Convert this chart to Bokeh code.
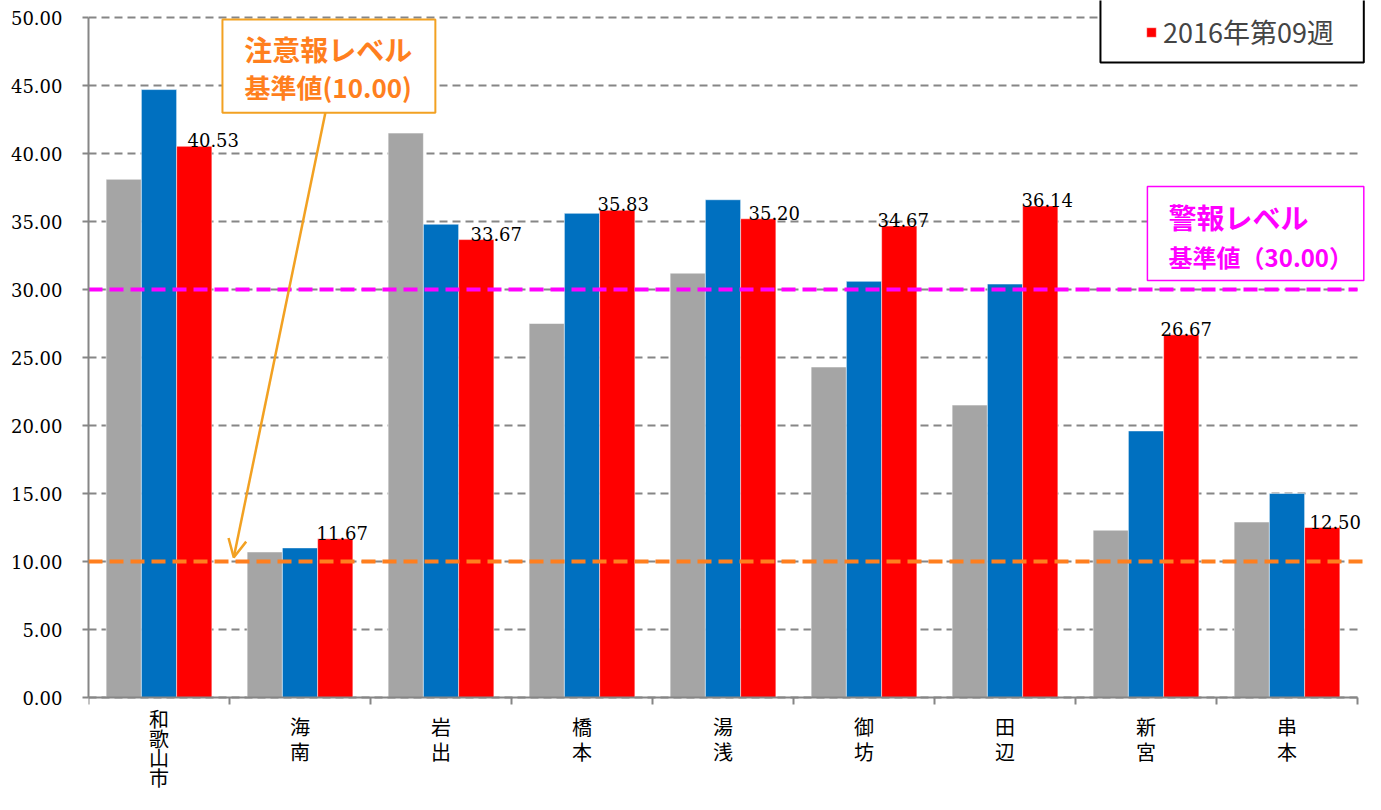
from bokeh.plotting import figure
from bokeh.models import (ColumnDataSource, Range1d, FixedTicker, NumeralTickFormatter, LinearAxis,
                          Span, BoxAnnotation, Label, Arrow, OpenHead, Legend, LegendItem)
from bokeh.transform import dodge
from bokeh.core.properties import value
from bokeh.embed import file_html
from bokeh.resources import INLINE

# ---- data ----
regions = ["和歌山市", "海南", "岩出", "橋本", "湯浅", "御坊", "田辺", "新宮", "串本"]
week_prev2 = [38.1, 10.7, 41.5, 27.5, 31.2, 24.3, 21.5, 12.3, 12.9]
week_prev1 = [44.7, 11.0, 34.8, 35.6, 36.6, 30.6, 30.4, 19.6, 15.0]
week_cur = [40.53, 11.67, 33.67, 35.83, 35.20, 34.67, 36.14, 26.67, 12.50]
cur_label = "2016年第09週"
y_ticks = [0, 5, 10, 15, 20, 25, 30, 35, 40, 45, 50]
alert_level = 10.0
warning_level = 30.0
alert_text = ["注意報レベル", "基準値(10.00)"]
warning_text = ["警報レベル", "基準値（30.00）"]

# ---- style / layout ----
GRAY = "#A5A5A5"
BLUE = "#0070C0"
RED = "#FF0000"
ORANGE_LINE = "#FF7F1E"
ORANGE_BOX = "#F2A122"
MAGENTA = "#FF00FF"
AXIS = "#868686"
SERIF = "'DejaVu Serif'"
JP = "'Noto Sans CJK JP'"
label_dx = [19, 7, 20, 6, 16, 4, 7, 5, 13]

n = len(regions)
centers = [i + 0.5 for i in range(n)]
W, H = 1365, 794
LEFT = 88            # px left of the plot frame
Y0_PX = 697          # px row of y = 0
PX_Y = 13.6          # px per y unit
PX_X = 141.0         # px per category
y_lo = -(H - Y0_PX) / PX_Y
y_hi = Y0_PX / PX_Y
x_hi = (W - LEFT) / PX_X
x_edge = x_hi - 0.012

src = ColumnDataSource(dict(
    x=centers, a=week_prev2, b=week_prev1, c=week_cur,
    lab=[f"{v:.2f}" for v in week_cur], dx=label_dx,
))

# stacked (vertical) category names, one row per character
NAME_START, NAME_PITCH, NAME_LAST_MAX = 29.0, 24.5, 80.0
nx, ny, nt, noff = [], [], [], []
for c, r in zip(centers, regions):
    start, pitch = NAME_START, NAME_PITCH
    if len(r) > 1 and start + (len(r) - 1) * pitch > NAME_LAST_MAX:
        start = 21.0
        pitch = (NAME_LAST_MAX - start) / (len(r) - 1)
    for k, ch in enumerate(r):
        nx.append(c); ny.append(0); nt.append(ch); noff.append(start + k * pitch)
names = ColumnDataSource(dict(x=nx, y=ny, t=nt, off=noff))

p = figure(width=W, height=H, x_range=Range1d(0, x_hi), y_range=Range1d(y_lo, y_hi),
           output_backend="svg", toolbar_location=None, x_axis_type=None,
           min_border_left=LEFT, min_border_right=0, min_border_top=0, min_border_bottom=0)
p.outline_line_color = None
p.background_fill_color = "white"

bw = 0.25
p.vbar(x=dodge("x", -bw, range=p.x_range), top="a", width=bw, source=src,
       fill_color=GRAY, line_color="white", line_alpha=0.5, line_width=1)
p.vbar(x=dodge("x", 0, range=p.x_range), top="b", width=bw, source=src,
       fill_color=BLUE, line_color="white", line_alpha=0.5, line_width=1)
r_cur = p.vbar(x=dodge("x", bw, range=p.x_range), top="c", width=bw, source=src,
               fill_color=RED, line_color="white", line_alpha=0.5, line_width=1)

# warning threshold line (stops at the last category like the grid)
p.segment(x0=0, x1=n, y0=warning_level, y1=warning_level, line_color=MAGENTA,
          line_width=4, line_dash="14 7")

p.text(x=dodge("x", bw, range=p.x_range), y="c", text="lab", x_offset="dx", y_offset=-6,
       source=src, text_align="center", text_baseline="alphabetic",
       text_font=value(SERIF), text_font_size="18px", text_color="black")

p.text(x="x", y="y", text="t", y_offset="off", source=names, text_align="center",
       text_baseline="middle", text_font=value(JP), text_font_size="20px", text_color="black")

# y axis
ya = p.yaxis[0]
ya.ticker = FixedTicker(ticks=y_ticks)
ya.formatter = NumeralTickFormatter(format="0.00")
ya.bounds = (0, 50)
ya.axis_line_color = AXIS
ya.axis_line_width = 2
ya.major_tick_line_color = AXIS
ya.major_tick_line_width = 2
ya.major_tick_out = 6
ya.major_tick_in = 0
ya.minor_tick_line_color = None
ya.major_label_text_font = SERIF
ya.major_label_text_font_size = "18px"
ya.major_label_text_color = "black"
ya.major_label_standoff = 20

# x axis (drawn at y = 0, ticks between categories)
xa = LinearAxis(fixed_location=0, bounds=(0, n),
                ticker=FixedTicker(ticks=[], minor_ticks=list(range(n + 1))))
xa.axis_line_color = AXIS
xa.axis_line_width = 2
xa.major_tick_line_color = None
xa.minor_tick_line_color = AXIS
xa.minor_tick_line_width = 2
xa.minor_tick_out = 7
xa.minor_tick_in = 0
p.add_layout(xa, "below")

yg = p.ygrid[0]
yg.ticker = FixedTicker(ticks=y_ticks)
yg.grid_line_color = AXIS
yg.grid_line_width = 2
yg.grid_line_dash = "8 5"
if "cross_bounds" in yg.properties():
    yg.cross_bounds = (0, n)

# alert threshold line
p.add_layout(Span(location=alert_level, dimension="width", line_color=ORANGE_LINE,
                  line_width=4, line_dash="14 7"))

# alert annotation box
p.add_layout(BoxAnnotation(left=0.95, right=2.46, bottom=43.0, top=49.85,
                           fill_color="white", fill_alpha=1.0, line_alpha=1.0,
                           line_color=ORANGE_BOX, line_width=2, level="annotation"))
p.add_layout(Label(x=1.7, y=47.7, text=alert_text[0], text_align="center",
                   text_baseline="middle", text_font=JP, text_font_size="28px",
                   text_font_style="bold", text_color=ORANGE_LINE))
p.add_layout(Label(x=1.7, y=44.9, text=alert_text[1], text_align="center",
                   text_baseline="middle", text_font=JP, text_font_size="26px",
                   text_font_style="bold", text_color=ORANGE_LINE))
p.add_layout(Arrow(x_start=1.68, y_start=43.0, x_end=1.03, y_end=10.3,
                   line_color=ORANGE_BOX, line_width=2.5,
                   end=OpenHead(size=18, line_color=ORANGE_BOX, line_width=2.5)))

# warning annotation box
p.add_layout(BoxAnnotation(left=7.51, right=x_edge, bottom=30.66, top=37.57,
                           fill_color="white", fill_alpha=1.0, line_alpha=1.0,
                           line_color=MAGENTA, line_width=1.5, level="annotation"))
p.add_layout(Label(x=7.66, y=35.3, text=warning_text[0], text_align="left",
                   text_baseline="middle", text_font=JP, text_font_size="28px",
                   text_font_style="bold", text_color=MAGENTA))
p.add_layout(Label(x=7.66, y=32.45, text=warning_text[1], text_align="left",
                   text_baseline="middle", text_font=JP, text_font_size="24px",
                   text_font_style="bold", text_color=MAGENTA))

# legend box (top cut off by the page edge)
p.add_layout(BoxAnnotation(left=7.177, right=x_edge, bottom=46.69, top=y_hi + 2,
                           fill_color="white", fill_alpha=1.0, line_alpha=1.0,
                           line_color="black", line_width=2, level="annotation"))
legend = Legend(items=[LegendItem(label=cur_label, renderers=[r_cur])],
                location=(1057, 743), padding=0, spacing=0, margin=0,
                glyph_width=12, glyph_height=12, label_standoff=6,
                label_text_font=JP, label_text_font_size="27px",
                border_line_alpha=0, background_fill_alpha=0)
p.add_layout(legend)

open("out.html", "w").write(file_html(p, INLINE))
